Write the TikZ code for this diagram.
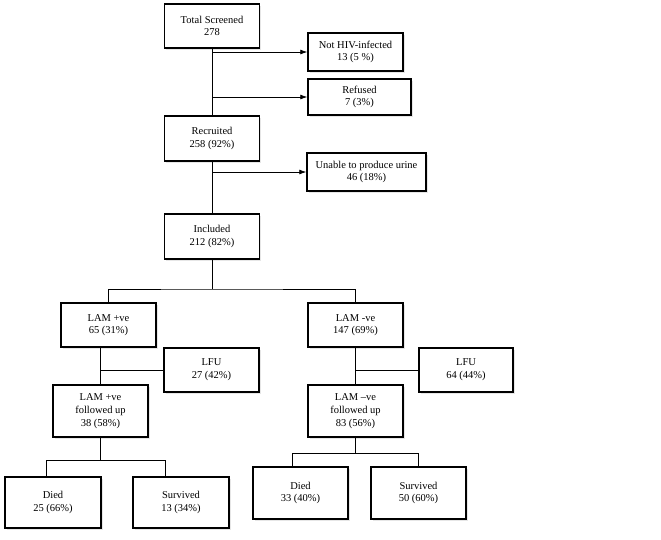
\documentclass[tikz,border=0pt]{standalone}
\usepackage{fontspec}
\setmainfont{Liberation Serif}
\usetikzlibrary{positioning,arrows.meta,shadows}

\begin{document}
\begin{tikzpicture}[
  x=1pt, y=-1pt,
  box/.style={draw, fill=white, line width=1.4pt, align=center, inner sep=2pt,
    minimum width=95pt, minimum height=44pt,
    font=\fontsize{10.5}{12.7}\selectfont,
    drop shadow={opacity=0.2, shadow xshift=1.5pt, shadow yshift=-1.5pt}},
  link/.style={line width=0.8pt},
  arrow/.style={link, -{Latex[length=7pt,width=5pt]}}
]
\useasboundingbox (0,0) rectangle (661,539);

% screening
\node[box] (total) at (212,26) {Total Screened\\278};
\node[box, minimum height=38pt] (nothiv) at (355.5,52) {Not HIV-infected\\13 (5 \%)};
\node[box, minimum width=103pt, minimum height=36pt] (refused) at (359.5,97) {Refused\\7 (3\%)};
\node[box, minimum height=45pt] (recruited) at (212,138.5) {Recruited\\258 (92\%)};
\node[box, minimum width=119pt, minimum height=38pt] (nourine) at (366.5,172) {Unable to produce urine\\46 (18\%)};
\node[box, minimum height=45pt] (included) at (212,236.5) {Included\\212 (82\%)};

\draw[link] (total.south) -- (recruited.north);
\draw[arrow] (total.south |- nothiv.west) -- (nothiv.west);
\draw[arrow] (total.south |- refused.west) -- (refused.west);
\draw[link] (recruited.south) -- (included.north);
\draw[arrow] (recruited.south |- nourine.west) -- (nourine.west);

% LAM split
\node[box] (lampos) at (108.5,325) {LAM +ve\\65 (31\%)};
\node[box] (lamneg) at (355.5,325) {LAM -ve\\147 (69\%)};
\coordinate (split) at (212,289);
\draw[link] (included.south) -- (split);
\draw[link] (lampos.north) |- (split) -| (lamneg.north);

% follow up
\node[box] (lfupos) at (211.5,370) {LFU\\27 (42\%)};
\node[box, minimum height=52pt] (fupos) at (100.5,411) {LAM +ve\\followed up\\38 (58\%)};
\node[box, minimum width=94pt] (lfuneg) at (466,370) {LFU\\64 (44\%)};
\node[box, minimum height=52pt] (funeg) at (355.5,411) {LAM --ve\\followed up\\83 (56\%)};

\draw[link] (lampos.south -| fupos.north) -- (fupos.north);
\draw[link] (fupos.north |- lfupos.west) -- (lfupos.west);
\draw[link] (lamneg.south) -- (funeg.north);
\draw[link] (funeg.north |- lfuneg.west) -- (lfuneg.west);

% outcomes
\node[box, minimum width=96pt, minimum height=51pt] (diedpos) at (53,502.5) {Died\\25 (66\%)};
\node[box, minimum width=96pt, minimum height=51pt] (survpos) at (181,502.5) {Survived\\13 (34\%)};
\node[box, minimum height=52pt] (diedneg) at (300.5,493) {Died\\33 (40\%)};
\node[box, minimum height=52pt] (survneg) at (418.5,493) {Survived\\50 (60\%)};

\draw[link] (fupos.south) -- ++(0,23) coordinate (outpos);
\draw[link] ([xshift=-7pt]diedpos.north) |- (outpos) -| ([xshift=-16pt]survpos.north);
\draw[link] (funeg.south) -- ++(0,16) coordinate (outneg);
\draw[link] ([xshift=-8pt]diedneg.north) |- (outneg) -| (survneg.north);
\end{tikzpicture}
\end{document}
